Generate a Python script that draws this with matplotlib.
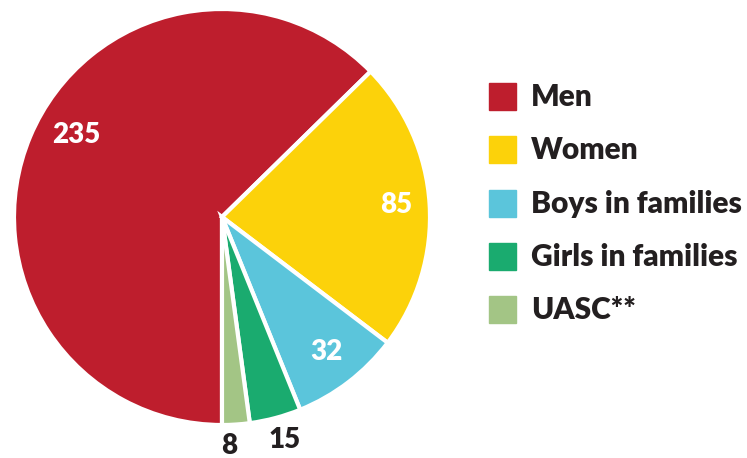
import matplotlib.pyplot as plt
from matplotlib.patches import Rectangle

labels = ["Men", "Women", "Boys in families", "Girls in families", "UASC**"]
values = [235, 85, 32, 15, 8]
colors = ["#BE1E2D", "#FCD20A", "#5BC5DB", "#1AAB6F", "#A3C585"]

plt.rcParams["font.family"] = ["Lato", "DejaVu Sans"]
dark = "#231F20"

fig = plt.figure(figsize=(7.47, 4.58), dpi=100)
W, H = 747, 458
cx, cy, r = 222, 217, 208

ax = fig.add_axes([(cx - r) / W, (H - cy - r) / H, 2 * r / W, 2 * r / H])
wedges, _ = ax.pie(values, colors=colors, startangle=-90, counterclock=False,
                   wedgeprops=dict(edgecolor="white", linewidth=3))
ax.set_xlim(-1, 1)
ax.set_ylim(-1, 1)

# value labels: baseline positions in pixels
lab_pos = [(76, 143, "white"), (396, 213, "white"), (326, 360, "white"),
           (285, 448, dark), (229, 454, dark)]
for v, (x, y, c) in zip(values, lab_pos):
    fig.text(x / W, 1 - y / H, str(v), color=c, fontsize=20, fontweight="heavy",
             ha="center", va="baseline")

# legend
for i, (lab, col) in enumerate(zip(labels, colors)):
    y = 83 + i * 53.3
    fig.patches.append(Rectangle((489 / W, 1 - (y + 27) / H), 27 / W, 27 / H,
                                 transform=fig.transFigure, color=col))
    fig.text(531 / W, 1 - (y + 14) / H, lab, color=dark, fontsize=21.5,
             fontweight="heavy", ha="left", va="center")

fig.savefig("out.png", dpi=100)
